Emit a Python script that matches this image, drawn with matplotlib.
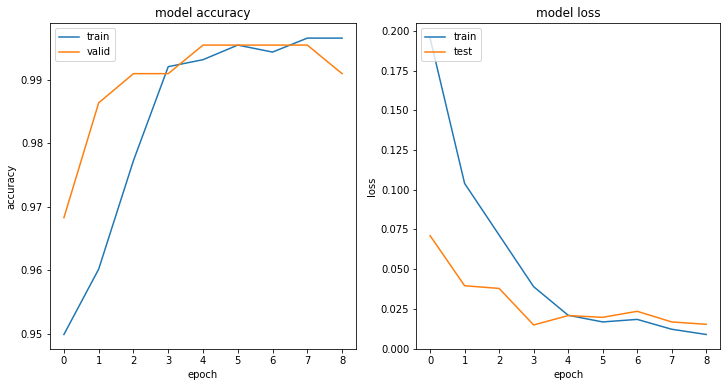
import matplotlib
matplotlib.use("Agg")
import matplotlib.pyplot as plt

epochs = [0, 1, 2, 3, 4, 5, 6, 7, 8]
acc_train = [0.9499, 0.9602, 0.9773, 0.9921, 0.9932, 0.9955, 0.9944, 0.9966, 0.9966]
acc_valid = [0.9683, 0.9864, 0.9910, 0.9910, 0.9955, 0.9955, 0.9955, 0.9955, 0.9910]
loss_train = [0.1955, 0.1040, 0.0715, 0.0390, 0.0210, 0.0168, 0.0184, 0.0122, 0.0089]
loss_test = [0.0711, 0.0396, 0.0379, 0.0149, 0.0208, 0.0197, 0.0235, 0.0168, 0.0153]

W, H = 727, 387
fig = plt.figure(figsize=(W / 72, H / 72), dpi=72)

ax1 = fig.add_axes([50 / W, 1 - 349.3 / H, (356 - 50) / W, (349.3 - 23.3) / H])
ax2 = fig.add_axes([416.3 / W, 1 - 349.3 / H, (720 - 416.3) / W, (349.3 - 23.3) / H])

ax1.plot(epochs, acc_train, label="train")
ax1.plot(epochs, acc_valid, label="valid")
ax1.set_title("model accuracy")
ax1.set_ylabel("accuracy")
ax1.set_xlabel("epoch")
ax1.legend(loc="upper left")

ax2.plot(epochs, loss_train, label="train")
ax2.plot(epochs, loss_test, label="test")
ax2.set_title("model loss")
ax2.set_ylabel("loss")
ax2.set_xlabel("epoch")
ax2.legend(loc="upper left")

fig.savefig("out.png", dpi=72)
